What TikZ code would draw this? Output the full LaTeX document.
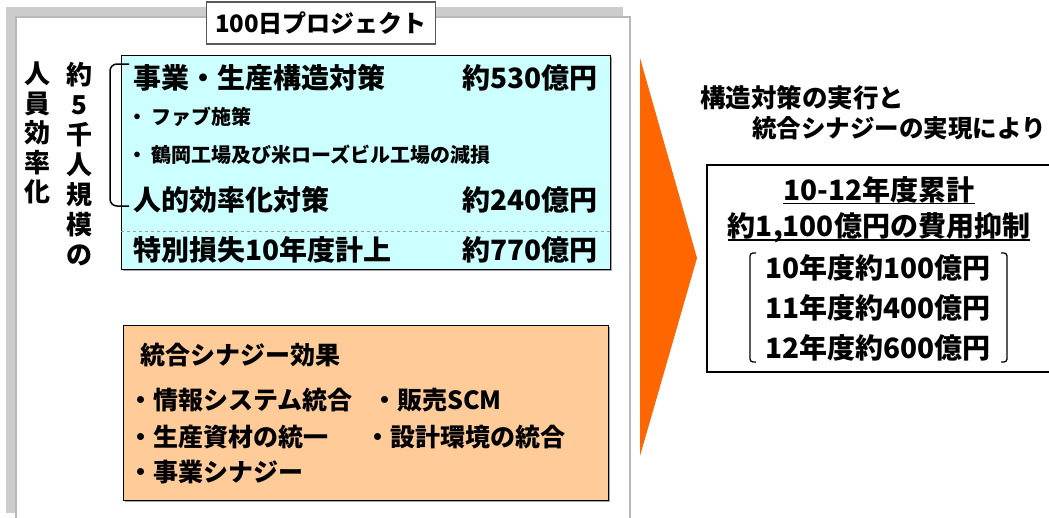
\documentclass[tikz,border=0pt]{standalone}
\usepackage{fontspec}
\setmainfont{Noto Sans CJK JP}
\definecolor{cyanfill}{HTML}{CCFFFF}
\definecolor{peach}{HTML}{FFCC99}
\definecolor{orng}{HTML}{FF6600}
\newcommand\fsz[1]{\fontsize{#1pt}{#1pt}\selectfont\bfseries}
\newcommand\fszv[2]{\fontsize{#1pt}{#2pt}\selectfont\bfseries}
\begin{document}
\begin{tikzpicture}[x=1pt,y=-1pt,
  txt/.style={inner sep=0pt, anchor=west},
  amt/.style={inner sep=0pt, anchor=east, font=\fsz{28}},
  big/.style={txt, font=\fsz{28}},
  small/.style={txt, font=\fsz{20}},
  mid/.style={txt, font=\fsz{25}},
  ctr/.style={inner sep=0pt, font=\fsz{28}},
  box/.style={draw=black, line width=1pt, inner sep=0pt, anchor=north west},
  shadowbox/.style={fill=gray!70, inner sep=0pt, anchor=north west, draw=none},
  uline/.style={line width=1.6pt},
  brk/.style={line width=1.3pt, rounded corners=3pt},
]
\useasboundingbox (0,0) rectangle (1049,517);
% outer frame
\fill[gray!40] (6,7) rectangle (623,513);
\draw[gray!55, line width=1.2pt, fill=white] (16,17) rectangle (630,530);
% title
\node[draw=gray!70!black, line width=1.5pt, fill=white, minimum width=229pt,
  minimum height=42pt, inner sep=0pt, font=\fsz{24}] (title) at (321,23) {100日プロジェクト};
% vertical labels
\node[inner sep=0pt, anchor=north, align=center, font=\fszv{26}{29.5}] (v1) at (37,62) {人\\員\\効\\率\\化};
\node[inner sep=0pt, anchor=north, align=center, font=\fszv{26}{30}] (v2) at (79,62) {約\\5\\千\\人\\規\\模\\の};
% cyan box
\node[shadowbox, minimum width=489pt, minimum height=214pt] (cshadow) at (123,57) {};
\node[box, fill=cyanfill, minimum width=489pt, minimum height=214pt] (cbox) at (121,55) {};
\coordinate (dl) at (121,231);
\coordinate (dr) at (610,231);
\draw[gray!75, dashed, line width=1pt] (dl) -- (dr);
\node[big] (c1) at (133,78) {事業・生産構造対策};
\node[amt] (a1) at (598,78) {約530億円};
\node[small] (c2) at (127,117) {・ ファブ施策};
\node[small] (c3) at (127,155) {・ 鶴岡工場及び米ローズビル工場の減損};
\node[big] (c4) at (133,200) {人的効率化対策};
\node[amt] (a2) at (598,200) {約240億円};
\node[big] (c5) at (133,250) {特別損失10年度計上};
\node[amt] (a3) at (598,250) {約770億円};
\draw[line width=1.5pt, rounded corners=7pt] (129,64) -- (110,64) -- (110,206) -- (129,206);
% peach box
\node[shadowbox, minimum width=485pt, minimum height=175pt] (pshadow) at (125,327) {};
\node[box, fill=peach, minimum width=485pt, minimum height=175pt] (pbox) at (123,325) {};
\node[mid] (p1) at (140,355) {統合シナジー効果};
\node[mid] (p2) at (128,400) {・情報システム統合};
\node[mid] (p3) at (372,400) {・販売SCM};
\node[mid] (p4) at (128,437) {・生産資材の統一};
\node[mid] (p5) at (365,437) {・設計環境の統合};
\node[mid] (p6) at (128,472) {・事業シナジー};
% orange arrow
\fill[orng] (640,58) -- (697,258) -- (640,456) -- cycle;
% right side
\node[txt, font=\fsz{25.5}] (r1) at (700,98) {構造対策の実行と};
\node[txt, font=\fsz{24.5}] (r2) at (752,128) {統合シナジーの実現により};
\draw[line width=2.5pt] (1060,165) -- (707,165) -- (707,372) -- (1060,372);
\node[ctr] (u1) at (879,190) {10-12年度累計};
\draw[uline] ([yshift=-3pt]u1.base west) -- ([yshift=-3pt]u1.base east);
\node[ctr] (u2) at (879,228) {約1,100億円の費用抑制};
\draw[uline] ([yshift=-3pt]u2.base west) -- ([yshift=-3pt]u2.base east);
\draw[brk] (756,253) -- (750,253) -- (750,362) -- (756,362);
\draw[brk] (1001,253) -- (1007,253) -- (1007,362) -- (1001,362);
\node[ctr] (y1) at (878,268) {10年度約100億円};
\node[ctr] (y2) at (878,308) {11年度約400億円};
\node[ctr] (y3) at (878,348) {12年度約600億円};
\end{tikzpicture}
\end{document}
